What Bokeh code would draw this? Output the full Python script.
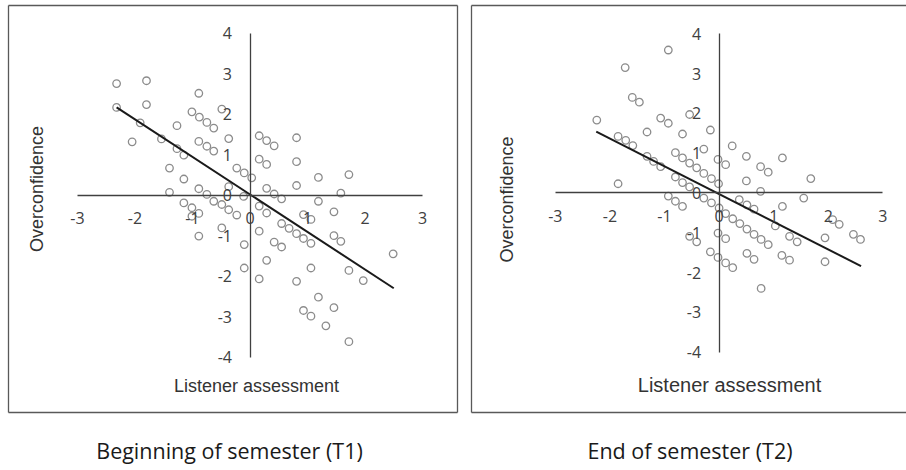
import numpy as np
from bokeh.plotting import figure
from bokeh.layouts import row
from bokeh.models import Range1d, FixedTicker, Label, Arrow, PrintfTickFormatter
from bokeh.embed import file_html
from bokeh.resources import INLINE

# ---------------- data ----------------
x_ticks = [-3, -2, -1, 0, 1, 2, 3]
y_ticks = [-4, -3, -2, -1, 0, 1, 2, 3, 4]

x_title = "Listener assessment"
y_title = "Overconfidence"
captions = ["Beginning of semester (T1)", "End of semester (T2)"]

t1_listener = [-2.32, -1.80, -2.32, -1.80, -0.89, -0.49, -1.91, -2.05, -1.54, -1.27,
               -1.01, -0.88, -0.75, -0.63, -0.89, -0.75, -0.63, -0.37, -1.27, -1.15,
               -1.40, -1.15, -1.40, -0.89, -0.75, -0.63, -0.49, -1.15, -1.01, -0.23,
               -0.37, 0.16, 0.29, 0.42, 0.81, 0.16, 0.29, 0.81, -0.10, 0.03,
               0.29, 0.42, 0.55, 0.81, 1.19, 1.72, 1.58, 1.19, -0.11, 0.16,
               -0.89, -1.01, -0.89, -0.49, -0.37, -0.23, -0.10, -0.10, 0.29, 0.93,
               1.06, 1.46, 0.55, 0.68, 0.81, 0.93, 1.06, 1.46, 1.58, 0.16,
               0.42, 0.55, 0.29, 0.16, 0.81, 1.06, 1.72, 1.97, 2.49, 1.19,
               0.93, 1.06, 1.46, 1.32, 1.72]
t1_overconf = [2.76, 2.83, 2.17, 2.24, 2.52, 2.13, 1.79, 1.32, 1.39, 1.72,
               2.06, 1.93, 1.80, 1.66, 1.33, 1.21, 1.09, 1.40, 1.15, 0.99,
               0.67, 0.40, 0.07, 0.16, 0.02, -0.15, -0.23, -0.19, -0.31, 0.67,
               0.21, 1.47, 1.35, 1.22, 1.42, 0.89, 0.76, 0.83, 0.55, 0.43,
               0.17, 0.03, -0.09, 0.24, 0.44, 0.51, 0.05, -0.15, -0.03, -0.27,
               -0.45, -0.52, -1.01, -0.81, -0.36, -0.49, -1.22, -1.80, -0.44, -0.48,
               -0.60, -0.41, -0.70, -0.82, -0.95, -1.07, -1.19, -1.00, -1.14, -0.89,
               -1.16, -1.28, -1.61, -2.07, -2.13, -1.80, -1.86, -2.11, -1.45, -2.52,
               -2.85, -2.99, -2.78, -3.23, -3.62]
# linear trend line (end points)
t1_trend_x = [-2.32, 2.50]
t1_trend_y = [2.17, -2.30]

t2_listener = [-0.93, -1.72, -1.59, -1.46, -2.24, -1.07, -0.93, -0.54, -1.32, -0.67,
               -1.85, -1.71, -1.58, -1.32, -1.20, -1.07, -0.80, -0.67, -0.54, -0.41,
               -0.80, -0.67, -0.54, -1.85, -0.93, -0.80, -0.67, -0.16, -0.28, -0.28,
               -0.14, -0.01, -0.02, 0.12, 0.24, 0.50, 0.76, 0.90, 1.16, 0.50,
               0.76, 1.68, 1.55, 1.16, 0.37, 0.51, 0.64, -0.28, -0.14, 0.00,
               0.12, 0.25, 0.38, 0.51, 0.64, 0.77, 0.90, 1.03, 1.29, 1.43,
               1.15, 1.29, 1.94, 1.94, 2.08, 2.20, 2.46, 2.59, 0.77, 0.51,
               0.64, -0.02, 0.12, -0.16, -0.02, 0.12, 0.25, -0.54, -0.41]
t2_overconf = [3.59, 3.15, 2.40, 2.28, 1.83, 1.88, 1.75, 1.97, 1.53, 1.48,
               1.42, 1.32, 1.19, 0.92, 0.79, 0.66, 1.01, 0.88, 0.75, 0.63,
               0.40, 0.26, 0.15, 0.23, -0.08, -0.21, -0.34, 1.58, 1.10, 0.49,
               0.36, 0.23, 0.84, 0.71, 1.18, 0.92, 0.66, 0.52, 0.88, 0.30,
               0.04, 0.36, -0.13, -0.34, -0.17, -0.30, -0.41, -0.13, -0.25, -0.38,
               -0.52, -0.65, -0.77, -0.91, -1.04, -1.17, -1.30, -0.83, -1.09, -1.23,
               -1.57, -1.69, -1.13, -1.73, -0.67, -0.79, -1.04, -1.17, -2.40, -1.52,
               -1.67, -1.01, -1.15, -1.48, -1.62, -1.76, -1.88, -1.09, -1.23]
t2_trend_x = [-2.25, 2.60]
t2_trend_y = [1.54, -1.84]

# ---------------- styling / layout ----------------
MARKER_COLOR = "#8c8c8c"
LINE_COLOR = "#1a1a1a"
AXIS_COLOR = "#404040"
BOX_COLOR = "#595959"
TEXT_COLOR = "#333333"

H = 470
# all positions in pixels within each figure canvas (x from left, y from bottom)
panels = [
    dict(xs=t1_listener, ys=t1_overconf, tx=t1_trend_x, ty=t1_trend_y,
         caption=captions[0], W=464, x0=249.5, sx=57.5, y0=H - 194.7, sy=40.45,
         box=(8, 457, 58, 465), right_side=True,
         ytitle_pos=(36.5, 281.5), xtitle_pos=(256, 85), xtitle_size="18px",
         cap_pos=(229, 20)),
    dict(xs=t2_listener, ys=t2_overconf, tx=t2_trend_x, ty=t2_trend_y,
         caption=captions[1], W=442, x0=254.6, sx=54.6, y0=H - 192.4, sy=39.8,
         box=(7, 442, 58, 465), right_side=False,
         ytitle_pos=(42, 271), xtitle_pos=(265, 85.5), xtitle_size="20px",
         cap_pos=(225.5, 20)),
]


def box_side(x1, y1, x2, y2):
    return Arrow(x_start=x1, y_start=y1, x_end=x2, y_end=y2,
                 start_units="screen", end_units="screen", start=None, end=None,
                 line_color=BOX_COLOR, line_width=1.3)


def make_panel(c):
    W = c["W"]
    xr = Range1d(-c["x0"] / c["sx"], (W - c["x0"]) / c["sx"])
    yr = Range1d(-c["y0"] / c["sy"], (H - c["y0"]) / c["sy"])
    p = figure(width=W, height=H, x_range=xr, y_range=yr,
               output_backend="svg", toolbar_location=None, title=None,
               min_border_left=0, min_border_right=0,
               min_border_top=0, min_border_bottom=0)
    p.xgrid.visible = False
    p.ygrid.visible = False
    p.background_fill_color = "white"
    p.border_fill_color = "white"
    p.outline_line_color = None

    l, r, b, t = c["box"]
    p.add_layout(box_side(l, b, l, t))
    p.add_layout(box_side(l, t, r, t))
    p.add_layout(box_side(l, b, r, b))
    if c["right_side"]:
        p.add_layout(box_side(r, b, r, t))

    for ax, ticks, bounds, standoff in ((p.xaxis[0], x_ticks, (-3, 3), 17),
                                        (p.yaxis[0], y_ticks, (-4, 4), 18)):
        ax.fixed_location = 0
        ax.bounds = bounds
        ax.ticker = FixedTicker(ticks=ticks)
        ax.formatter = PrintfTickFormatter(format="%d")
        ax.major_tick_in = 0
        ax.major_tick_out = 0
        ax.minor_tick_in = 0
        ax.minor_tick_out = 0
        ax.axis_line_color = AXIS_COLOR
        ax.axis_line_width = 1.3
        ax.major_label_standoff = standoff
        ax.major_label_text_font = "Open Sans"
        ax.major_label_text_font_size = "16px"
        ax.major_label_text_color = AXIS_COLOR

    p.scatter(c["xs"], c["ys"], marker="circle", size=7.5, fill_color=None,
              line_color=MARKER_COLOR, line_width=1.3)
    p.line(c["tx"], c["ty"], line_color=LINE_COLOR, line_width=2)

    p.add_layout(Label(x=c["ytitle_pos"][0], y=c["ytitle_pos"][1],
                       x_units="screen", y_units="screen", text=y_title,
                       angle=np.pi / 2, text_align="center", text_baseline="middle",
                       text_font="Liberation Sans", text_font_size="18px",
                       text_color=TEXT_COLOR))
    p.add_layout(Label(x=c["xtitle_pos"][0], y=c["xtitle_pos"][1],
                       x_units="screen", y_units="screen", text=x_title,
                       text_align="center", text_baseline="middle",
                       text_font="Liberation Sans", text_font_size=c["xtitle_size"],
                       text_color=TEXT_COLOR))
    p.add_layout(Label(x=c["cap_pos"][0], y=c["cap_pos"][1],
                       x_units="screen", y_units="screen", text=c["caption"],
                       text_align="center", text_baseline="middle",
                       text_font="Open Sans", text_font_size="21.5px",
                       text_color="#1a1a1a"))
    return p


layout = row(*[make_panel(c) for c in panels])
open("out.html", "w").write(file_html(layout, INLINE))
